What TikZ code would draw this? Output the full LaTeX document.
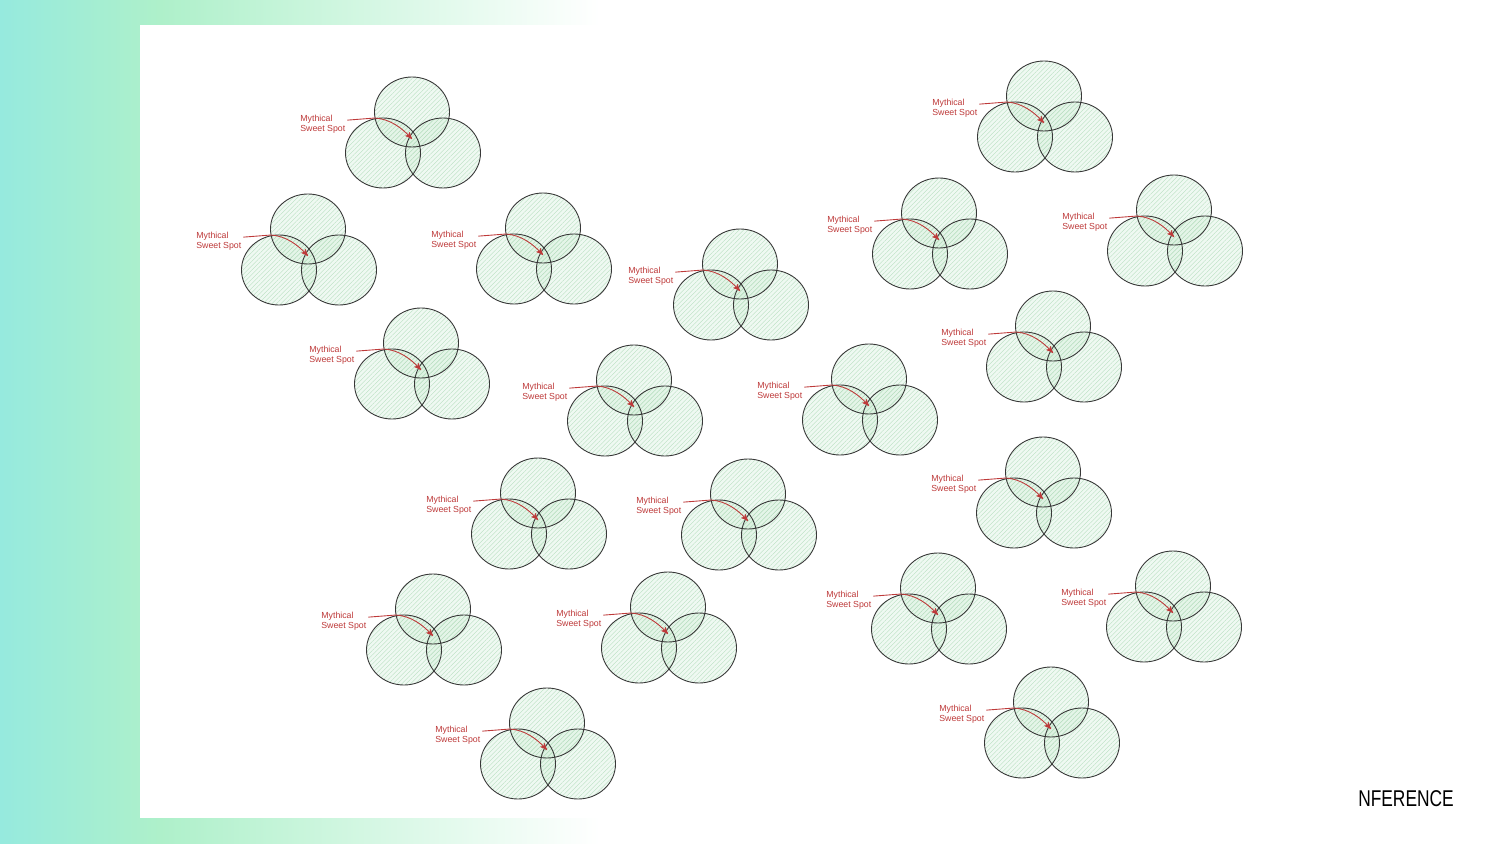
\documentclass[tikz,border=0pt]{standalone}
\usepackage{fontspec}
\setmainfont{Liberation Sans}
\usetikzlibrary{arrows,patterns.meta}

\definecolor{sweetred}{RGB}{190,58,58}
\definecolor{vennfill}{RGB}{205,236,212}
\definecolor{vennhatch}{RGB}{182,222,190}
\definecolor{bgcyan}{RGB}{150,234,222}
\definecolor{bggreen}{RGB}{174,240,202}

\begin{document}
\begin{tikzpicture}[x=0.02cm,y=-0.02cm,
  venn/.style={draw=black!78,line width=0.5pt},
  sweet/.style={draw=sweetred,line width=0.5pt,-stealth'},
  tag/.style={text=sweetred,font=\fontsize{5}{5.7}\selectfont,align=left,inner sep=0pt,anchor=west}]
\useasboundingbox (0,0) rectangle (1500,844);
% backdrop
\shade[left color=bgcyan,right color=bggreen] (0,0) rectangle (160,844);
\shade[left color=bggreen,right color=white] (160,0) rectangle (600,844);
\fill[white] (140,25) rectangle (1500,818);

% venns, by centre of the top circle
\foreach \i/\x/\y in {1/412/112,2/308/229,3/543/228,4/740/264,5/421/343,
    6/634/380,7/869/379,8/538/493,9/748/494,10/433/609,11/668/607,
    12/547/723,13/1044/96,14/939/213,15/1174/210,16/1053/326,
    17/1043/472,18/938/588,19/1173/586,20/1051/702}{
  \foreach \dx/\dy in {0/0,-29/41,31/41}{
    \fill[vennfill,fill opacity=0.3] (\x+\dx,\y+\dy) ellipse [x radius=37.5,y radius=35];
    \path[pattern={Lines[angle=45,distance=1.8pt,line width=0.2pt]},pattern color=vennhatch]
      (\x+\dx,\y+\dy) ellipse [x radius=37.5,y radius=35];
  }
  \foreach \dx/\dy in {0/0,-29/41,31/41}
    \draw[venn] (\x+\dx,\y+\dy) ellipse [x radius=37.5,y radius=35];
  \node[tag] (lbl\i) at (\x-112,\y+12) {Mythical\\Sweet Spot};
  \coordinate (tip\i) at (\x,\y+27);
  \draw[sweet] ([xshift=1pt,yshift=2.2pt]lbl\i.east) -- (\x-37,\y+6)
    .. controls (\x-22,\y+7) and (\x-10,\y+16) .. (tip\i);
}

\node (brand) at (1406,799) {\fontsize{13}{13}\selectfont\scalebox{0.76}[1]{NFERENCE}};
\end{tikzpicture}
\end{document}
